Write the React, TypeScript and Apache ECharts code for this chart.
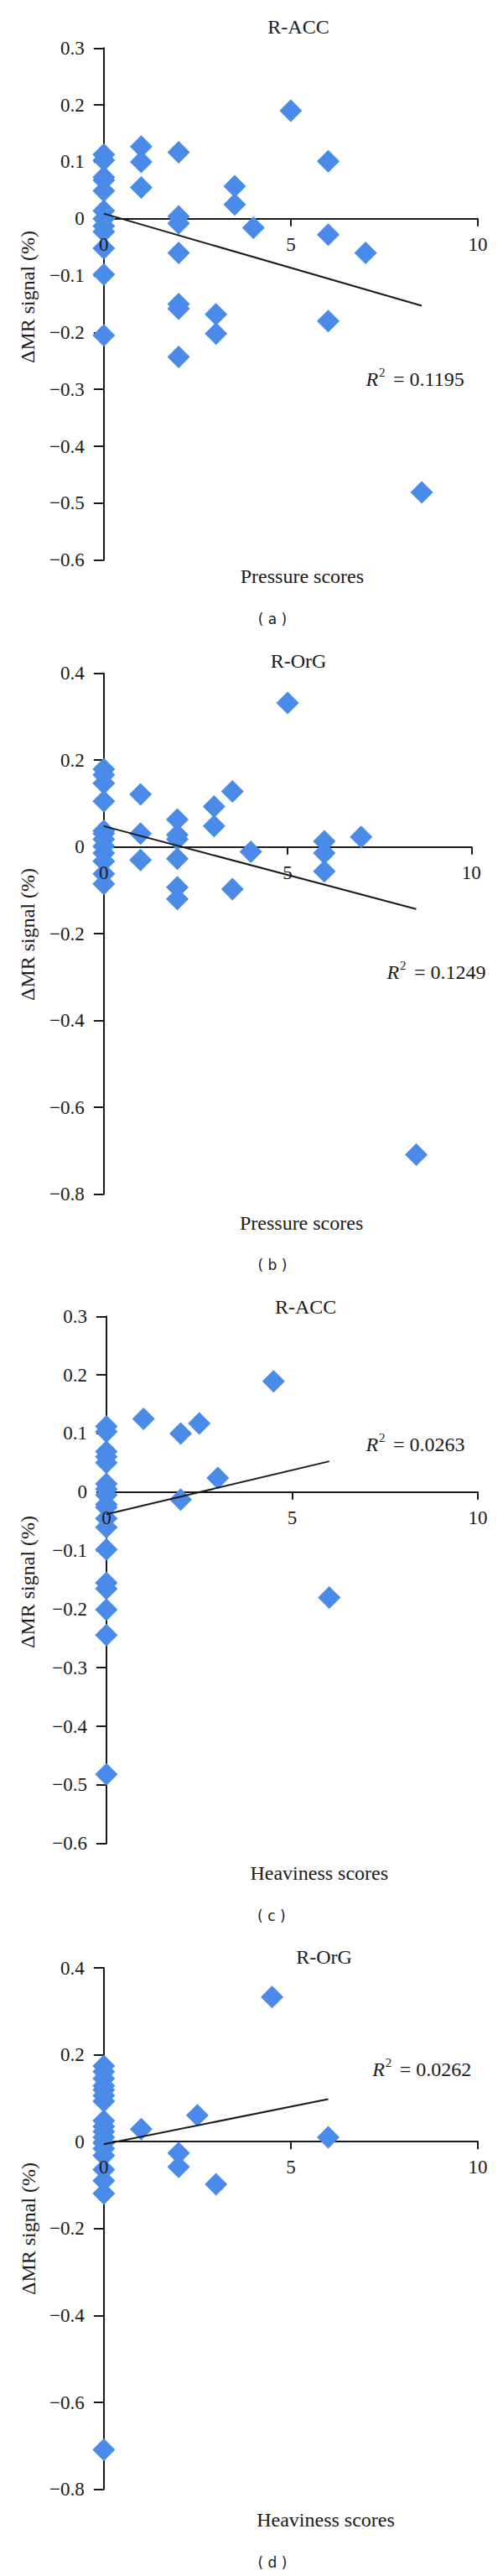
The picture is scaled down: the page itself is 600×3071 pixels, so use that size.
import React, { useEffect, useRef } from "react";
import * as echarts from "echarts";

// ---------- data ----------
const pressureAcc: number[][] = [
  [0, 0.113], [0, 0.103], [0, 0.073], [0, 0.068], [0, 0.049], [0, 0.014], [0, 0.0], [0, -0.013], [0, -0.023], [0, -0.052], [0, -0.098], [0, -0.205],
  [1, 0.127], [1, 0.1], [1, 0.055],
  [2, 0.117], [2, 0.004], [2, -0.008], [2, -0.06], [2, -0.15], [2, -0.158], [2, -0.243],
  [3, -0.168], [3, -0.202],
  [3.5, 0.057], [3.5, 0.025],
  [4, -0.016],
  [5, 0.19],
  [6, 0.101], [6, -0.028], [6, -0.18],
  [7, -0.06],
  [8.5, -0.481],
];
const pressureAccTrend: number[][] = [[0, 0.009], [8.5, -0.153]];

const pressureOrg: number[][] = [
  [0, 0.179], [0, 0.166], [0, 0.147], [0, 0.105], [0, 0.037], [0, 0.031], [0, 0.018], [0, 0.002], [0, -0.014], [0, -0.033], [0, -0.062], [0, -0.085],
  [1, 0.121], [1, 0.031], [1, -0.03],
  [2, 0.063], [2, 0.028], [2, 0.018], [2, -0.027], [2, -0.093], [2, -0.12],
  [3, 0.093], [3, 0.048],
  [3.5, 0.128], [3.5, -0.097],
  [4, -0.011],
  [5, 0.332],
  [6, 0.013], [6, -0.014], [6, -0.056],
  [7, 0.023],
  [8.5, -0.709],
];
const pressureOrgTrend: number[][] = [[0, 0.048], [8.5, -0.143]];

const heavinessAcc: number[][] = [
  [0, 0.112], [0, 0.103], [0, 0.069], [0, 0.06], [0, 0.05], [0, 0.014], [0, 0.005], [0, -0.005], [0, -0.021], [0, -0.026], [0, -0.045], [0, -0.06], [0, -0.098], [0, -0.155], [0, -0.165], [0, -0.201], [0, -0.244], [0, -0.482],
  [1, 0.125],
  [2, 0.1], [2, -0.013],
  [2.5, 0.117],
  [3, 0.024],
  [4.5, 0.189],
  [6, -0.18],
];
const heavinessAccTrend: number[][] = [[0, -0.038], [6, 0.0525]];

const heavinessOrg: number[][] = [
  [0, 0.174], [0, 0.161], [0, 0.145], [0, 0.129], [0, 0.119], [0, 0.106], [0, 0.093], [0, 0.048], [0, 0.035], [0, 0.023], [0, 0.01], [0, -0.003], [0, -0.016], [0, -0.032], [0, -0.064], [0, -0.09], [0, -0.119], [0, -0.709],
  [1, 0.029],
  [2, -0.026], [2, -0.058],
  [2.5, 0.061],
  [3, -0.098],
  [4.5, 0.333],
  [6, 0.01],
];
const heavinessOrgTrend: number[][] = [[0, -0.006], [6, 0.098]];

const panelTitles = ["R-ACC", "R-OrG", "R-ACC", "R-OrG"];
const xNames = ["Pressure scores", "Pressure scores", "Heaviness scores", "Heaviness scores"];
const subLabels = ["( a )", "( b )", "( c )", "( d )"];
const r2Values = ["0.1195", "0.1249", "0.0263", "0.0262"];
const yRanges = [
  { min: -0.6, max: 0.3, interval: 0.1 },
  { min: -0.8, max: 0.4, interval: 0.2 },
  { min: -0.6, max: 0.3, interval: 0.1 },
  { min: -0.8, max: 0.4, interval: 0.2 },
];
const xRange = { min: 0, max: 10, interval: 5 };
const yAxisTitle = "ΔMR signal (%)";

// ---------- layout ----------
const grids = [
  { left: 123.8, top: 57.3, width: 446.2, height: 610.4 },
  { left: 123.8, top: 802.7, width: 438.5, height: 621 },
  { left: 126.9, top: 1569.3, width: 443.1, height: 628.4 },
  { left: 123.8, top: 2346, width: 446.2, height: 621.7 },
];
const titlePos = [[356, 32], [356, 788], [364.6, 1558], [386.5, 2333]];
const yTitlePos = [[32.7, 354], [32.7, 1114], [32.7, 1886], [34, 2657]];
const xNamePos = [[360.4, 687], [359.6, 1458], [380.8, 2233], [388.5, 3004]];
const subPos = [[325, 738], [325, 1508], [323.8, 2284], [325, 3055]];
const r2Pos = [[436.5, 452], [461.5, 1159], [436.5, 1722], [444.2, 2467]];

const SERIF = '"Liberation Serif", "Times New Roman", serif';
const INK = "#1a1a1a";
const BLUE = "#4a8ae8";

const fmt = (v: number) => {
  const r = Math.round(v * 10) / 10;
  if (r === 0) return "0";
  return String(r).replace("-", "\u2212");
};

export default function App() {
  const ref = useRef<HTMLDivElement>(null);
  useEffect(() => {
    document.body.style.margin = "0";
    if (!ref.current) return;
    const chart = echarts.init(ref.current, undefined, { renderer: "svg" });
    const scatterData = [pressureAcc, pressureOrg, heavinessAcc, heavinessOrg];
    const trendData = [pressureAccTrend, pressureOrgTrend, heavinessAccTrend, heavinessOrgTrend];

    const graphic: any[] = [];
    const textStyle = (text: string, size: number, extra: any = {}) => ({
      text,
      fontFamily: SERIF,
      fontSize: size,
      fill: INK,
      align: "center",
      verticalAlign: "middle",
      textAlign: "center",
      textVerticalAlign: "middle",
      ...extra,
    });
    for (let i = 0; i < 4; i++) {
      graphic.push({ type: "text", x: titlePos[i][0], y: titlePos[i][1], style: textStyle(panelTitles[i], 24) });
      graphic.push({ type: "text", x: yTitlePos[i][0], y: yTitlePos[i][1], rotation: Math.PI / 2, style: textStyle(yAxisTitle, 24) });
      graphic.push({ type: "text", x: xNamePos[i][0], y: xNamePos[i][1], style: textStyle(xNames[i], 24) });
      graphic.push({
        type: "text",
        x: subPos[i][0],
        y: subPos[i][1],
        style: textStyle(subLabels[i], 17, { fontFamily: '"DejaVu Sans", sans-serif' }),
      });
      const [rx, ry] = r2Pos[i];
      graphic.push({
        type: "text",
        x: rx,
        y: ry,
        style: textStyle("R", 24, { fontStyle: "italic", align: "left", textAlign: "left" }),
      });
      graphic.push({
        type: "text",
        x: rx + 15.5,
        y: ry - 8,
        style: textStyle("2", 15, { align: "left", textAlign: "left" }),
      });
      graphic.push({
        type: "text",
        x: rx + 32.5,
        y: ry,
        style: textStyle("= " + r2Values[i], 24, { align: "left", textAlign: "left" }),
      });
    }

    // place the x axis (line, ticks, labels) on the y = 0 line
    const zeroOffset = (i: number) =>
      -(grids[i].height * (0 - yRanges[i].min)) / (yRanges[i].max - yRanges[i].min);

    const baseX = (i: number) => ({
      type: "value",
      gridIndex: i,
      position: "bottom",
      offset: zeroOffset(i),
      min: xRange.min,
      max: xRange.max,
      interval: xRange.interval,
      splitLine: { show: false },
    });

    // primary x axes: line + ticks (drawn under the markers)
    const lineAxes = grids.map((_, i) => ({
      ...baseX(i),
      z: 0,
      axisLine: { show: true, onZero: false, lineStyle: { color: INK, width: 2 } },
      axisTick: { show: true, length: 9, lineStyle: { color: INK, width: 2 } },
      axisLabel: { show: false },
    }));
    // overlay x axes: tick labels only (drawn over the markers)
    const labelAxes = grids.map((_, i) => ({
      ...baseX(i),
      z: 10,
      axisLine: { show: false, onZero: false },
      axisTick: { show: false },
      axisLabel: { show: true, color: INK, fontFamily: SERIF, fontSize: 23, margin: 19 },
    }));

    const option: any = {
      animation: false,
      backgroundColor: "#ffffff",
      grid: grids.map((g) => ({ ...g, containLabel: false })),
      xAxis: [...lineAxes, ...labelAxes],
      yAxis: grids.map((_, i) => ({
        type: "value",
        gridIndex: i,
        min: yRanges[i].min,
        max: yRanges[i].max,
        interval: yRanges[i].interval,
        axisLine: { show: true, onZero: false, lineStyle: { color: INK, width: 2 } },
        axisTick: { show: true, length: 12, lineStyle: { color: INK, width: 2 } },
        axisLabel: { color: INK, fontFamily: SERIF, fontSize: 23, margin: 23, formatter: fmt },
        splitLine: { show: false },
      })),
      series: [
        ...scatterData.map((d, i) => ({
          type: "scatter",
          xAxisIndex: i,
          yAxisIndex: i,
          data: d,
          symbol: "diamond",
          symbolSize: 27,
          itemStyle: { color: BLUE, opacity: 1 },
          clip: false,
          z: 2,
        })),
        ...trendData.map((d, i) => ({
          type: "line",
          xAxisIndex: i,
          yAxisIndex: i,
          data: d,
          symbol: "none",
          lineStyle: { color: INK, width: 2 },
          clip: false,
          z: 3,
        })),
      ],
      graphic,
    };
    chart.setOption(option);
    return () => chart.dispose();
  }, []);
  return <div ref={ref} style={{ width: 600, height: 3071 }} />;
}
